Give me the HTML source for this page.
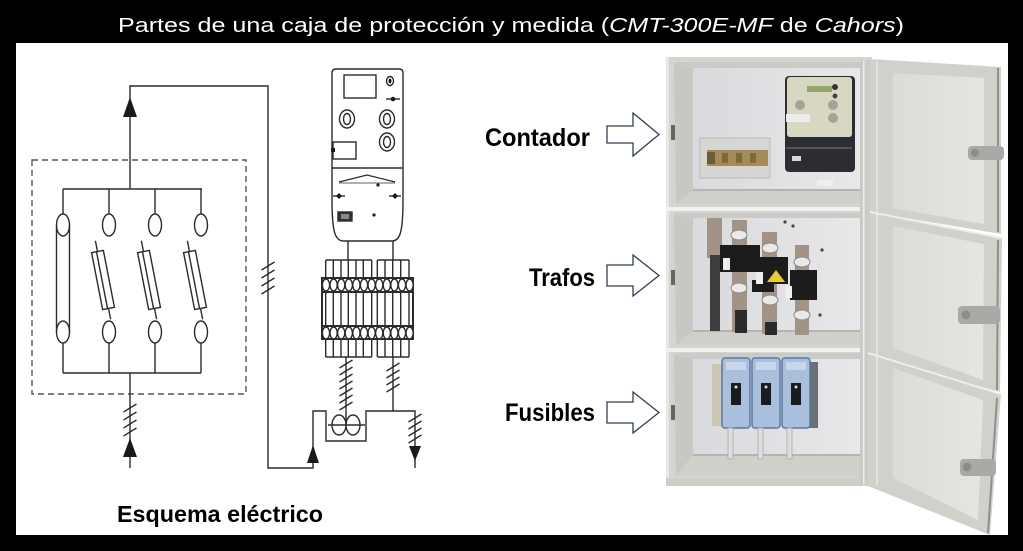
<!DOCTYPE html>
<html><head><meta charset="utf-8"><style>
html,body{margin:0;padding:0;background:#000;}
svg{display:block;}
</style></head><body>
<svg width="1023" height="551" viewBox="0 0 1023 551" xmlns="http://www.w3.org/2000/svg">
<defs>
<linearGradient id="plate" x1="0" y1="0" x2="1" y2="0">
<stop offset="0" stop-color="#d9dadd"/><stop offset="1" stop-color="#e8e8ea"/>
</linearGradient>
<linearGradient id="door" x1="0" y1="0" x2="1" y2="0">
<stop offset="0" stop-color="#dddbd6"/><stop offset="1" stop-color="#e7e5e1"/>
</linearGradient>
</defs>
<rect width="1023" height="551" fill="#000"/>
<rect x="16" y="43" width="992" height="492" fill="#fff"/>
<text x="118" y="32" font-family="Liberation Sans, sans-serif" font-size="20" fill="#fff" textLength="786" lengthAdjust="spacingAndGlyphs">Partes de una caja de protección y medida (<tspan font-style="italic">CMT-300E-MF</tspan> de <tspan font-style="italic">Cahors</tspan>)</text>

<!-- ============ SCHEMATIC ============ -->
<g stroke="#2b2b2b" stroke-width="1.4" fill="none">
<rect x="32" y="160" width="214" height="234" stroke="#555" stroke-dasharray="6 4"/>
<polyline points="130,189 130,86 268,86 268,468 313,468 313,411 326,411 326,441 366,441 366,411 415,411 415,468"/>
<line x1="63" y1="189" x2="202" y2="189"/>
<line x1="63" y1="189" x2="63" y2="214"/>
<line x1="109" y1="189" x2="109" y2="214"/>
<line x1="155" y1="189" x2="155" y2="214"/>
<line x1="201" y1="189" x2="201" y2="214"/>
<ellipse cx="63" cy="225" rx="6.5" ry="11"/>
<ellipse cx="109" cy="225" rx="6.5" ry="11"/>
<ellipse cx="155" cy="225" rx="6.5" ry="11"/>
<ellipse cx="201" cy="225" rx="6.5" ry="11"/>
<ellipse cx="63" cy="332" rx="6.5" ry="11"/>
<ellipse cx="109" cy="332" rx="6.5" ry="11"/>
<ellipse cx="155" cy="332" rx="6.5" ry="11"/>
<ellipse cx="201" cy="332" rx="6.5" ry="11"/>
<line x1="56.5" y1="225" x2="56.5" y2="332"/>
<line x1="69.5" y1="225" x2="69.5" y2="332"/>
<line x1="63" y1="343" x2="63" y2="373"/>
<line x1="109" y1="343" x2="109" y2="373"/>
<line x1="155" y1="343" x2="155" y2="373"/>
<line x1="201" y1="343" x2="201" y2="373"/>
<line x1="63" y1="373" x2="201" y2="373"/>
<line x1="130" y1="373" x2="130" y2="468"/>
<g transform="translate(103,280) rotate(-11)"><rect x="-6" y="-29" width="12" height="58"/><line x1="-1" y1="-29" x2="-1" y2="29"/><line x1="0" y1="-29" x2="0" y2="-40"/><line x1="0" y1="29" x2="0" y2="40"/></g>
<g transform="translate(149,280) rotate(-11)"><rect x="-6" y="-29" width="12" height="58"/><line x1="-1" y1="-29" x2="-1" y2="29"/><line x1="0" y1="-29" x2="0" y2="-40"/><line x1="0" y1="29" x2="0" y2="40"/></g>
<g transform="translate(195,280) rotate(-11)"><rect x="-6" y="-29" width="12" height="58"/><line x1="-1" y1="-29" x2="-1" y2="29"/><line x1="0" y1="-29" x2="0" y2="-40"/><line x1="0" y1="29" x2="0" y2="40"/></g>
<!-- hatches -->
<path d="M261.5,270 L274.5,262 M261.5,278 L274.5,270 M261.5,286 L274.5,278 M261.5,294 L274.5,286"/>
<path d="M123.5,412 L136.5,404 M123.5,420 L136.5,412 M123.5,428 L136.5,420 M123.5,436 L136.5,428"/>
<path d="M339.5,368 L352.5,360 M339.5,375 L352.5,367 M339.5,382 L352.5,374 M339.5,389 L352.5,381 M339.5,396 L352.5,388 M339.5,403 L352.5,395 M339.5,410 L352.5,402"/>
<path d="M386.5,371 L399.5,363 M386.5,378 L399.5,370 M386.5,385 L399.5,377 M386.5,392 L399.5,384"/>
<path d="M408.5,422 L421.5,414 M408.5,429 L421.5,421 M408.5,436 L421.5,428 M408.5,443 L421.5,435"/>
<!-- meter -->
<path d="M336,69 H399 Q403,69 403,73 V200 C403,232 400,241 392,241 H344 C335,241 332,232 332,200 V73 Q332,69 336,69 Z"/>
<rect x="344" y="75" width="32" height="23"/>
<ellipse cx="390" cy="81" rx="3.5" ry="4.5"/>
<ellipse cx="347" cy="119" rx="7.5" ry="9"/>
<ellipse cx="347" cy="119" rx="3.5" ry="5.5"/>
<ellipse cx="387" cy="119" rx="7.5" ry="9"/>
<ellipse cx="387" cy="119" rx="3.5" ry="5.5"/>
<ellipse cx="387" cy="142" rx="7.5" ry="9"/>
<ellipse cx="387" cy="142" rx="3.5" ry="5.5"/>
<rect x="333" y="142" width="23" height="17"/>
<line x1="332" y1="168" x2="403" y2="168"/>
<polyline points="339,182 367,175 395,182" stroke-width="1.2"/>
<line x1="339" y1="183" x2="395" y2="183" stroke-width="0.8"/>
<line x1="333" y1="196" x2="345" y2="196"/>
<line x1="389" y1="196" x2="401" y2="196"/>
<line x1="386" y1="99" x2="400" y2="99"/>
<rect x="338" y="212" width="14" height="9" fill="#333"/>
<!-- meter legs -->
<line x1="348" y1="241" x2="348" y2="260"/>
<line x1="393" y1="241" x2="393" y2="260"/>
<!-- terminal block -->
<path d="M325.7,260 V357 M333.3,260 V357 M341,260 V357 M348.3,260 V357 M356,260 V357 M363.3,260 V357 M371.7,260 V357 M325.7,260 H371.7 M325.7,357 H371.7"/>
<path d="M377.3,260 V357 M385,260 V357 M392.7,260 V357 M400.7,260 V357 M409,260 V357 M377.3,260 H409 M377.3,357 H409"/>
<rect x="322" y="278" width="91" height="14" stroke-width="2"/>
<rect x="322" y="326" width="91" height="13" stroke-width="2"/>
<line x1="322" y1="278" x2="322" y2="339" stroke-width="2"/>
<line x1="413" y1="278" x2="413" y2="339" stroke-width="2"/>
<g fill="#fff">
<ellipse cx="326" cy="285" rx="3.6" ry="6"/><ellipse cx="333.6" cy="285" rx="3.6" ry="6"/><ellipse cx="341.2" cy="285" rx="3.6" ry="6"/><ellipse cx="348.8" cy="285" rx="3.6" ry="6"/><ellipse cx="356.4" cy="285" rx="3.6" ry="6"/><ellipse cx="364" cy="285" rx="3.6" ry="6"/><ellipse cx="371.6" cy="285" rx="3.6" ry="6"/><ellipse cx="379.2" cy="285" rx="3.6" ry="6"/><ellipse cx="386.8" cy="285" rx="3.6" ry="6"/><ellipse cx="394.4" cy="285" rx="3.6" ry="6"/><ellipse cx="402" cy="285" rx="3.6" ry="6"/><ellipse cx="409.6" cy="285" rx="3.6" ry="6"/>
<ellipse cx="326" cy="333" rx="3.6" ry="6"/><ellipse cx="333.6" cy="333" rx="3.6" ry="6"/><ellipse cx="341.2" cy="333" rx="3.6" ry="6"/><ellipse cx="348.8" cy="333" rx="3.6" ry="6"/><ellipse cx="356.4" cy="333" rx="3.6" ry="6"/><ellipse cx="364" cy="333" rx="3.6" ry="6"/><ellipse cx="371.6" cy="333" rx="3.6" ry="6"/><ellipse cx="379.2" cy="333" rx="3.6" ry="6"/><ellipse cx="386.8" cy="333" rx="3.6" ry="6"/><ellipse cx="394.4" cy="333" rx="3.6" ry="6"/><ellipse cx="402" cy="333" rx="3.6" ry="6"/><ellipse cx="409.6" cy="333" rx="3.6" ry="6"/>
</g>
<!-- legs down -->
<line x1="346" y1="357" x2="346" y2="425"/>
<line x1="393" y1="357" x2="393" y2="411"/>
<!-- transformers -->
<ellipse cx="339" cy="425" rx="7" ry="10"/>
<ellipse cx="353" cy="425" rx="7" ry="10"/>
<line x1="328" y1="425" x2="365" y2="425"/>
</g>
<g fill="#1a1a1a">
<polygon points="130,97 123,117 137,117"/>
<polygon points="130,438 123,457 137,457"/>
<polygon points="313,445 307,463 319,463"/>
<polygon points="409,446 421,446 415,461"/>
<ellipse cx="390" cy="81" rx="1.5" ry="2.5"/>
<circle cx="393" cy="99" r="2.3"/>
<rect x="331" y="148" width="4" height="4"/>
<circle cx="378" cy="185" r="1.6"/>
<polygon points="339,193 342,196 339,199 336,196"/>
<polygon points="395,193 398,196 395,199 392,196"/>
<circle cx="374" cy="215" r="1.6"/>
</g>
<rect x="341" y="214" width="8" height="5" fill="#888"/>

<text x="117" y="522" font-family="Liberation Sans, sans-serif" font-weight="bold" font-size="23" fill="#000" textLength="206" lengthAdjust="spacingAndGlyphs">Esquema eléctrico</text>

<!-- ============ LABELS & ARROWS ============ -->
<g font-family="Liberation Sans, sans-serif" font-weight="bold" font-size="25" fill="#000">
<text x="485" y="146" textLength="105" lengthAdjust="spacingAndGlyphs">Contador</text>
<text x="529" y="286" textLength="66" lengthAdjust="spacingAndGlyphs">Trafos</text>
<text x="505" y="421" textLength="90" lengthAdjust="spacingAndGlyphs">Fusibles</text>
</g>
<g fill="#fff" stroke="#2e3f5c" stroke-width="1.3" stroke-linejoin="miter">
<polygon points="607,126 633,126 633,113 659,134.5 633,156 633,143 607,143"/>
<polygon points="607,265 633,265 633,255 659,275.5 633,296 633,286 607,286"/>
<polygon points="607,402 633,402 633,392 659,412.5 633,433 633,423 607,423"/>
</g>

<!-- ============ PHOTO ============ -->
<!-- body -->
<rect x="666" y="57" width="206" height="429" fill="#d5d4cf"/>
<rect x="666" y="57" width="3" height="429" fill="#e8e7e3"/>
<!-- top compartment -->
<polygon points="674,63 693,68 693,190 676,204" fill="#c8c7c2"/>
<polygon points="674,62 862,62 862,68 693,68" fill="#cacac6"/>
<rect x="693" y="68" width="169" height="122" fill="url(#plate)"/>
<polygon points="693,190 862,190 862,204 676,204" fill="#d0cfca"/>
<rect x="693" y="189" width="169" height="2" fill="#b4b4b0"/>
<rect x="671" y="125" width="4" height="15" fill="#666"/>
<!-- middle compartment -->
<polygon points="674,214 693,218 693,331 676,345" fill="#c8c7c2"/>
<polygon points="674,213 862,213 862,218 693,218" fill="#cacac6"/>
<rect x="693" y="218" width="169" height="113" fill="url(#plate)"/>
<polygon points="693,331 862,331 862,345 676,345" fill="#d0cfca"/>
<rect x="693" y="330" width="169" height="2" fill="#b4b4b0"/>
<rect x="671" y="270" width="4" height="15" fill="#666"/>
<!-- bottom compartment -->
<polygon points="674,354 693,359 693,455 676,476" fill="#c8c7c2"/>
<polygon points="674,353 862,353 862,359 693,359" fill="#cacac6"/>
<rect x="693" y="359" width="169" height="96" fill="url(#plate)"/>
<polygon points="693,455 862,455 862,476 676,476" fill="#d0cfca"/>
<rect x="693" y="454" width="169" height="2" fill="#b4b4b0"/>
<rect x="671" y="405" width="4" height="15" fill="#666"/>
<rect x="666" y="478" width="206" height="8" fill="#cfcec9"/>
<!-- gaps -->
<rect x="666" y="207" width="206" height="4" fill="#f1f1f0"/>
<rect x="666" y="348" width="206" height="4" fill="#f1f1f0"/>
<!-- hinge column -->
<rect x="860" y="60" width="10" height="425" fill="#cbcac5"/>
<rect x="863" y="60" width="1.5" height="425" fill="#eeeeec"/>

<!-- top compartment content -->
<rect x="700" y="138" width="70" height="40" fill="#d6d6d4" stroke="#b9b9b6"/>
<rect x="707" y="150" width="61" height="16" fill="#a38c55"/>
<rect x="707" y="152" width="8" height="12" fill="#6d5c35"/>
<rect x="722" y="153" width="6" height="10" fill="#7c6a3c"/>
<rect x="736" y="153" width="6" height="10" fill="#7c6a3c"/>
<rect x="750" y="153" width="6" height="10" fill="#7c6a3c"/>
<rect x="817" y="180" width="16" height="6" fill="#efefef"/>
<rect x="785" y="76" width="70" height="96" rx="4" fill="#2c2d32"/>
<rect x="787" y="77" width="65" height="60" rx="3" fill="#d8d8c2"/>
<rect x="807" y="86" width="25" height="6" fill="#97a66c"/>
<circle cx="835" cy="87" r="3" fill="#333"/>
<circle cx="835" cy="96" r="2.5" fill="#444"/>
<circle cx="800" cy="105" r="5" fill="#a3a397"/>
<circle cx="833" cy="105" r="5" fill="#a3a397"/>
<circle cx="833" cy="118" r="5" fill="#a3a397"/>
<rect x="786" y="114" width="24" height="8" fill="#ececea"/>
<rect x="792" y="156" width="9" height="5" fill="#d9d9d9"/>
<rect x="786" y="147" width="66" height="2" fill="#555"/>

<!-- middle compartment content -->
<rect x="707" y="218" width="15" height="40" fill="#a39384"/>
<rect x="710" y="255" width="10" height="76" fill="#3e3e3e"/>
<rect x="732" y="220" width="15" height="112" fill="#a39384"/>
<rect x="762" y="232" width="15" height="102" fill="#a39384"/>
<rect x="795" y="245" width="14" height="90" fill="#a39384"/>
<rect x="720" y="245" width="40" height="27" fill="#1c1c1c"/>
<rect x="758" y="257" width="30" height="27" fill="#1c1c1c"/>
<rect x="790" y="270" width="27" height="30" fill="#1c1c1c"/>
<rect x="752" y="280" width="22" height="12" fill="#1c1c1c"/>
<g fill="#e9e9e9" stroke="#8a8a8a" stroke-width="1">
<ellipse cx="739" cy="235" rx="8" ry="5"/>
<ellipse cx="739" cy="288" rx="8" ry="5"/>
<ellipse cx="770" cy="248" rx="8" ry="5"/>
<ellipse cx="770" cy="300" rx="8" ry="5"/>
<ellipse cx="802" cy="262" rx="8" ry="5"/>
<ellipse cx="802" cy="315" rx="8" ry="5"/>
</g>
<rect x="723" y="258" width="7" height="12" fill="#eee"/>
<rect x="756" y="272" width="7" height="12" fill="#eee"/>
<rect x="785" y="286" width="7" height="12" fill="#eee"/>
<polygon points="767,282 776,270 785,282" fill="#e6cf2e"/>
<rect x="735" y="310" width="12" height="23" fill="#2a2a2a"/>
<rect x="765" y="322" width="12" height="13" fill="#2a2a2a"/>
<circle cx="785" cy="222" r="1.6" fill="#444"/>
<circle cx="793" cy="226" r="1.6" fill="#444"/>
<circle cx="822" cy="250" r="1.6" fill="#444"/>
<circle cx="820" cy="315" r="1.6" fill="#444"/>

<!-- bottom compartment content -->
<rect x="712" y="364" width="12" height="62" fill="#cdc6b0"/>
<rect x="806" y="362" width="12" height="66" fill="#6b6f77"/>
<g>
<rect x="722" y="358" width="28" height="70" rx="3" fill="#a8c0dc" stroke="#5a79a5" stroke-width="1.5"/>
<rect x="752" y="358" width="28" height="70" rx="3" fill="#a8c0dc" stroke="#5a79a5" stroke-width="1.5"/>
<rect x="782" y="358" width="28" height="70" rx="3" fill="#a8c0dc" stroke="#5a79a5" stroke-width="1.5"/>
<rect x="726" y="362" width="20" height="8" fill="#c8d7ea"/>
<rect x="756" y="362" width="20" height="8" fill="#c8d7ea"/>
<rect x="786" y="362" width="20" height="8" fill="#c8d7ea"/>
<rect x="731" y="383" width="10" height="22" fill="#1b1b1b"/>
<rect x="761" y="383" width="10" height="22" fill="#1b1b1b"/>
<rect x="791" y="383" width="10" height="22" fill="#1b1b1b"/>
<circle cx="736" cy="387" r="1.5" fill="#ddd"/>
<circle cx="766" cy="387" r="1.5" fill="#ddd"/>
<circle cx="796" cy="387" r="1.5" fill="#ddd"/>
<rect x="728" y="428" width="5" height="31" fill="#dedede" stroke="#a8a8a8" stroke-width="0.8"/>
<rect x="758" y="428" width="5" height="31" fill="#dedede" stroke="#a8a8a8" stroke-width="0.8"/>
<rect x="787" y="428" width="5" height="31" fill="#dedede" stroke="#a8a8a8" stroke-width="0.8"/>
</g>

<!-- doors -->
<polygon points="870,59 1001,67 1001,234 870,212" fill="#d2d0ca"/>
<polygon points="893,73 984,78 984,224 893,208" fill="url(#door)"/>
<line x1="877" y1="62" x2="877" y2="212" stroke="#e9e8e4" stroke-width="1.5"/>
<line x1="998" y1="68" x2="998" y2="232" stroke="#8f8f8b" stroke-width="2"/>
<rect x="968" y="146" width="36" height="14" rx="4" fill="#a9a9a7"/>
<circle cx="975" cy="153" r="4" fill="#8d8d8b"/>

<polygon points="870,212 1002,238 1000,392 870,357" fill="#d2d0ca"/>
<polygon points="893,226 984,244 983,380 893,348" fill="url(#door)"/>
<line x1="877" y1="214" x2="877" y2="357" stroke="#e9e8e4" stroke-width="1.5"/>
<line x1="870" y1="212" x2="1002" y2="238" stroke="#eeeeec" stroke-width="2"/>
<line x1="998" y1="240" x2="997" y2="390" stroke="#8f8f8b" stroke-width="2"/>
<rect x="958" y="306" width="42" height="18" rx="4" fill="#a9a9a7"/>
<circle cx="966" cy="315" r="4.5" fill="#8d8d8b"/>

<polygon points="868,353 1001,394 990,535 868,486" fill="#d2d0ca"/>
<polygon points="893,368 983,400 978,520 893,478" fill="url(#door)"/>
<line x1="877" y1="356" x2="877" y2="486" stroke="#e9e8e4" stroke-width="1.5"/>
<line x1="868" y1="353" x2="1001" y2="394" stroke="#eeeeec" stroke-width="2"/>
<line x1="997" y1="398" x2="988" y2="533" stroke="#8f8f8b" stroke-width="2"/>
<rect x="960" y="459" width="36" height="17" rx="4" fill="#a9a9a7"/>
<circle cx="967" cy="467" r="4.5" fill="#8d8d8b"/>
</svg>
</body></html>
